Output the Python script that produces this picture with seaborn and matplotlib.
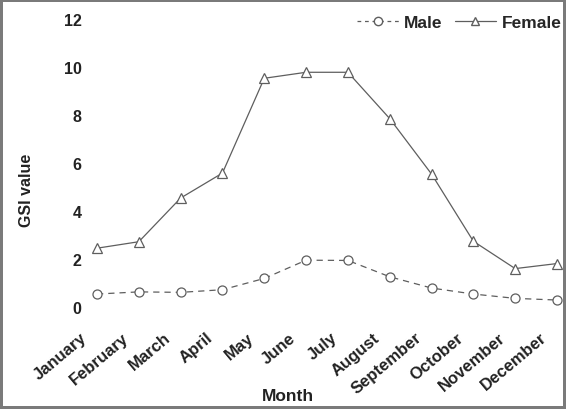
import numpy as np
import pandas as pd
import seaborn as sns
import matplotlib.pyplot as plt
import matplotlib.transforms as mtrans
from matplotlib.lines import Line2D

months = ['January', 'February', 'March', 'April', 'May', 'June', 'July',
          'August', 'September', 'October', 'November', 'December']
male_gsi = [0.54, 0.63, 0.61, 0.72, 1.19, 1.95, 1.94, 1.26, 0.79, 0.54, 0.36, 0.29]
female_gsi = [2.45, 2.72, 4.54, 5.58, 9.53, 9.78, 9.78, 7.85, 5.54, 2.74, 1.60, 1.81]
y_ticks = [0, 2, 4, 6, 8, 10, 12]

if __name__ == '__main__':
    sns.set_style('white')
    plt.rcParams['font.family'] = ['Liberation Sans', 'DejaVu Sans']

    df = pd.DataFrame({'pos': np.arange(len(months)), 'Month': months,
                       'Male': male_gsi, 'Female': female_gsi})

    W, H = 566, 410
    fig = plt.figure(figsize=(W / 100, H / 100), dpi=100)
    fig.patch.set_edgecolor('#7a7a7a')
    fig.patch.set_linewidth(3)
    ax = fig.add_axes([90 / W, 1 - 308 / H, 472 / W, 288 / H])

    line_col = '#5e5e5e'
    txt_col = '#222222'
    sns.lineplot(data=df, x='pos', y='Male', ax=ax, color=line_col, lw=0.9,
                 linestyle=(0, (5, 4)), marker='o', markersize=6.5,
                 markerfacecolor='white', markeredgecolor=line_col,
                 markeredgewidth=0.9, clip_on=False)
    sns.lineplot(data=df, x='pos', y='Female', ax=ax, color=line_col, lw=0.9,
                 marker='^', markersize=7.5, markerfacecolor='white',
                 markeredgecolor=line_col, markeredgewidth=0.9, clip_on=False)

    ax.set_xlim(-0.1674, 11.12)
    ax.set_ylim(0, 12)
    ax.tick_params(axis='y', length=0, pad=6)
    ax.tick_params(axis='x', length=0, pad=14)
    ax.set_yticks(y_ticks)
    ax.set_yticklabels([str(t) for t in y_ticks], fontsize=11.5,
                       fontweight='bold', color=txt_col)
    ax.set_xticks(df['pos'])
    ax.set_xticklabels(months, rotation=40, ha='right', rotation_mode='anchor',
                       fontsize=12, fontweight='bold', color=txt_col)
    for sp in ax.spines.values():
        sp.set_visible(False)

    ax.set_xlabel('Month', fontsize=12.5, fontweight='bold', color=txt_col)
    ax.xaxis.set_label_coords(288 / W, 1 - 389 / H, transform=fig.transFigure)
    ax.set_ylabel('GSI value', fontsize=11.5, fontweight='bold', color=txt_col)
    ax.yaxis.set_label_coords(34 / W, 1 - 190 / H, transform=fig.transFigure)

    handles = [
        Line2D([], [], color=line_col, lw=0.9, linestyle=(0, (3, 3)), marker='o',
               markersize=6, markerfacecolor='white', markeredgecolor=line_col),
        Line2D([], [], color=line_col, lw=0.9, marker='^', markersize=6,
               markerfacecolor='white', markeredgecolor=line_col),
    ]
    ax.legend(handles, ['Male', 'Female'], ncol=2, frameon=False,
              loc='center left', bbox_to_anchor=(357 / W, 1 - 23 / H),
              bbox_transform=fig.transFigure, handlelength=2.4,
              columnspacing=0.7, handletextpad=0.3, borderpad=0,
              borderaxespad=0, prop={'weight': 'bold', 'size': 12.5})

    # nudge the rotated month labels left, after all tick_params calls
    fig.canvas.draw()
    shift = mtrans.ScaledTranslation(-17 / 100, -3 / 100, fig.dpi_scale_trans)
    for lbl in ax.get_xticklabels():
        lbl.set_transform(lbl.get_transform() + shift)

    fig.savefig('out.png', dpi=100)
